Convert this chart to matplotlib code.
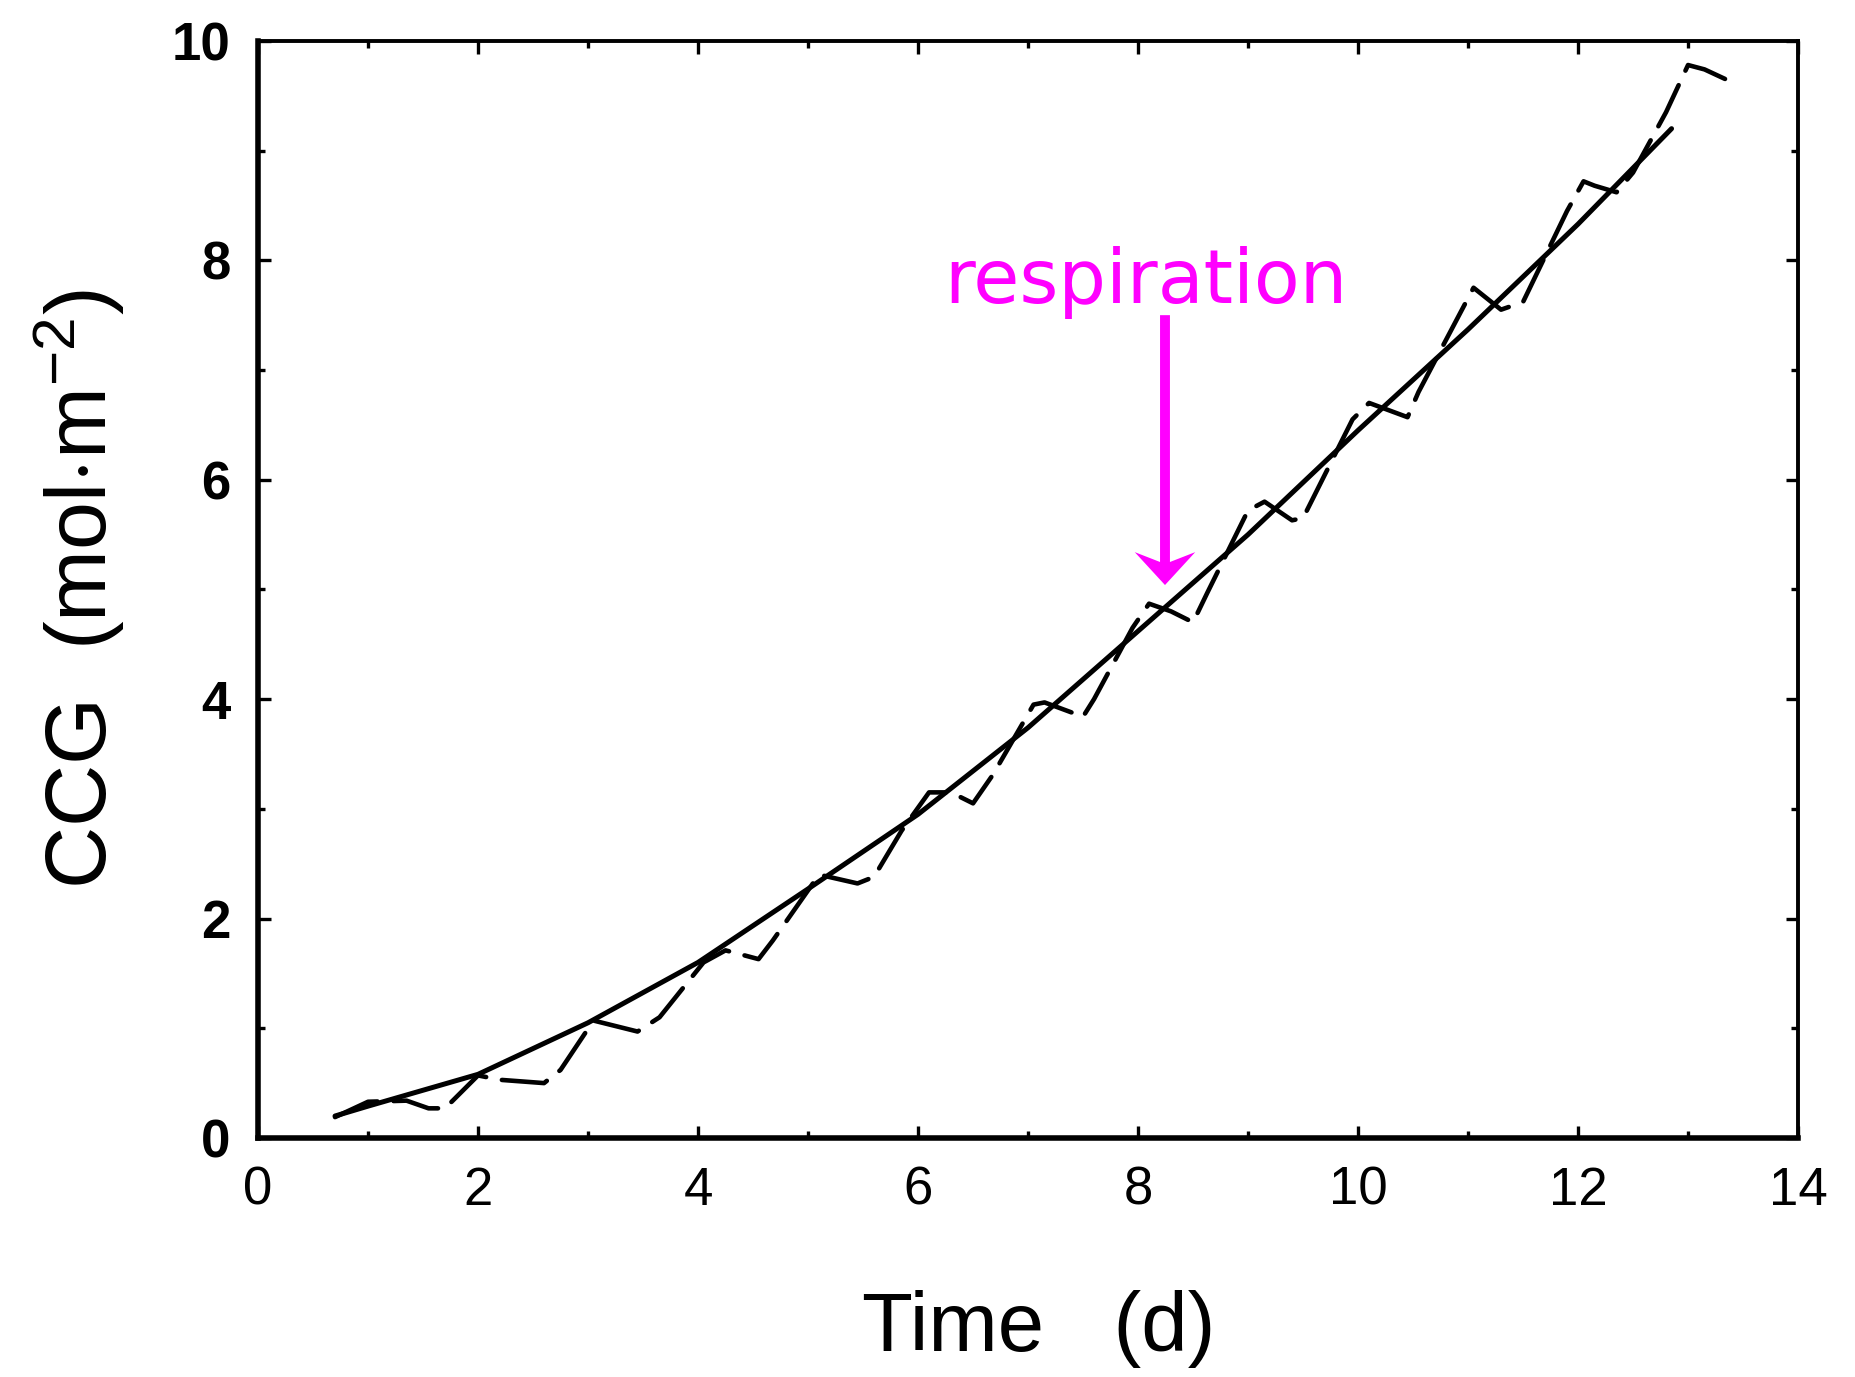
import matplotlib
matplotlib.use("Agg")
import matplotlib.pyplot as plt
from matplotlib.ticker import MultipleLocator

plt.rcParams['font.family'] = ['Liberation Sans', 'DejaVu Sans']
plt.rcParams['mathtext.fontset'] = 'custom'
plt.rcParams['mathtext.rm'] = 'Liberation Sans'
plt.rcParams['mathtext.it'] = 'Liberation Sans:italic'
plt.rcParams['mathtext.bf'] = 'Liberation Sans:bold'

# smooth (solid) curve
smooth_t = [0.7, 1.0, 2.0, 3.0, 4.0, 5.0, 6.0, 7.0, 8.0, 9.0, 10.0, 11.0, 12.0, 12.85]
smooth_ccg = [0.20, 0.29, 0.58, 1.05, 1.60, 2.27, 2.95, 3.74, 4.62, 5.50, 6.45, 7.37, 8.33, 9.20]

# diurnal (dashed) curve
diurnal_t = [0.70, 1.00, 1.35, 1.55, 1.70, 2.00, 2.20, 2.60, 2.75, 3.05, 3.25, 3.45, 3.65,
             4.05, 4.25, 4.55, 4.68, 5.10, 5.45, 5.60, 5.85, 6.10, 6.30, 6.50, 6.68,
             7.05, 7.15, 7.50, 7.60, 7.95, 8.10, 8.30, 8.50, 8.63, 9.00, 9.15, 9.40,
             9.50, 9.95, 10.10, 10.45, 10.55, 11.05, 11.30, 11.50, 11.90, 12.05, 12.15,
             12.35, 12.50, 12.80, 13.00, 13.15, 13.45]
diurnal_ccg = [0.19, 0.33, 0.34, 0.27, 0.27, 0.57, 0.53, 0.50, 0.62, 1.07, 1.02, 0.97, 1.10,
               1.60, 1.71, 1.63, 1.80, 2.40, 2.32, 2.38, 2.80, 3.15, 3.15, 3.05, 3.31,
               3.95, 3.97, 3.84, 4.00, 4.65, 4.87, 4.80, 4.70, 4.97, 5.72, 5.80, 5.63,
               5.65, 6.55, 6.70, 6.57, 6.80, 7.75, 7.55, 7.62, 8.45, 8.72, 8.68,
               8.62, 8.80, 9.35, 9.78, 9.74, 9.60]

x_ticks = [0, 2, 4, 6, 8, 10, 12, 14]
y_ticks = [0, 2, 4, 6, 8, 10]

annot_text = "respiration"
annot_xy = (8.07, 7.615)
arrow_x = 8.245
arrow_start, arrow_end = 7.50, 5.04

fig = plt.figure(figsize=(18.55, 13.77), dpi=100)
ax = fig.add_axes([0.1391, 0.1736, 0.8302, 0.7967])

ax.plot(smooth_t, smooth_ccg, color='black', lw=3.6, solid_capstyle='round')
ax.plot(diurnal_t, diurnal_ccg, color='black', lw=3.3, linestyle=(0, (10, 3.5)),
        dash_capstyle='round')

ax.set_xlim(0, 14)
ax.set_ylim(0, 10)
ax.set_xticks(x_ticks)
ax.set_yticks(y_ticks)
ax.set_xticklabels([str(v) for v in x_ticks])
ax.set_yticklabels([str(v) for v in y_ticks])
ax.xaxis.set_minor_locator(MultipleLocator(1))
ax.yaxis.set_minor_locator(MultipleLocator(1))

ax.tick_params(which='both', direction='in', top=True, right=True, width=2.4, color='black')
ax.tick_params(which='major', length=9)
ax.tick_params(which='minor', length=5)
ax.tick_params(axis='x', which='major', labelsize=38, pad=20)
ax.tick_params(axis='y', which='major', labelsize=38, pad=20)
for lab in ax.get_yticklabels():
    lab.set_fontweight('bold')

for side in ['left', 'bottom']:
    ax.spines[side].set_linewidth(4.0)
for side in ['top', 'right']:
    ax.spines[side].set_linewidth(2.8)

ax.set_xlabel("Time   (d)", fontsize=60)
ax.xaxis.set_label_coords(0.507, -0.139)
ax.set_ylabel(r"CCG  (mol$\cdot$m$^{-2}$)", fontsize=62)
ax.yaxis.set_label_coords(-0.085, 0.5)

ax.text(annot_xy[0], annot_xy[1], annot_text, color='#ff00ff', fontsize=54,
        family=['DejaVu Sans'], ha='center', va='baseline')
ax.arrow(arrow_x, arrow_start, 0, arrow_end - arrow_start, width=0.09,
         head_width=0.55, head_length=0.30, overhang=0.3,
         length_includes_head=True, color='#ff00ff', lw=0)

fig.savefig("out.png", dpi=100, facecolor='white')
